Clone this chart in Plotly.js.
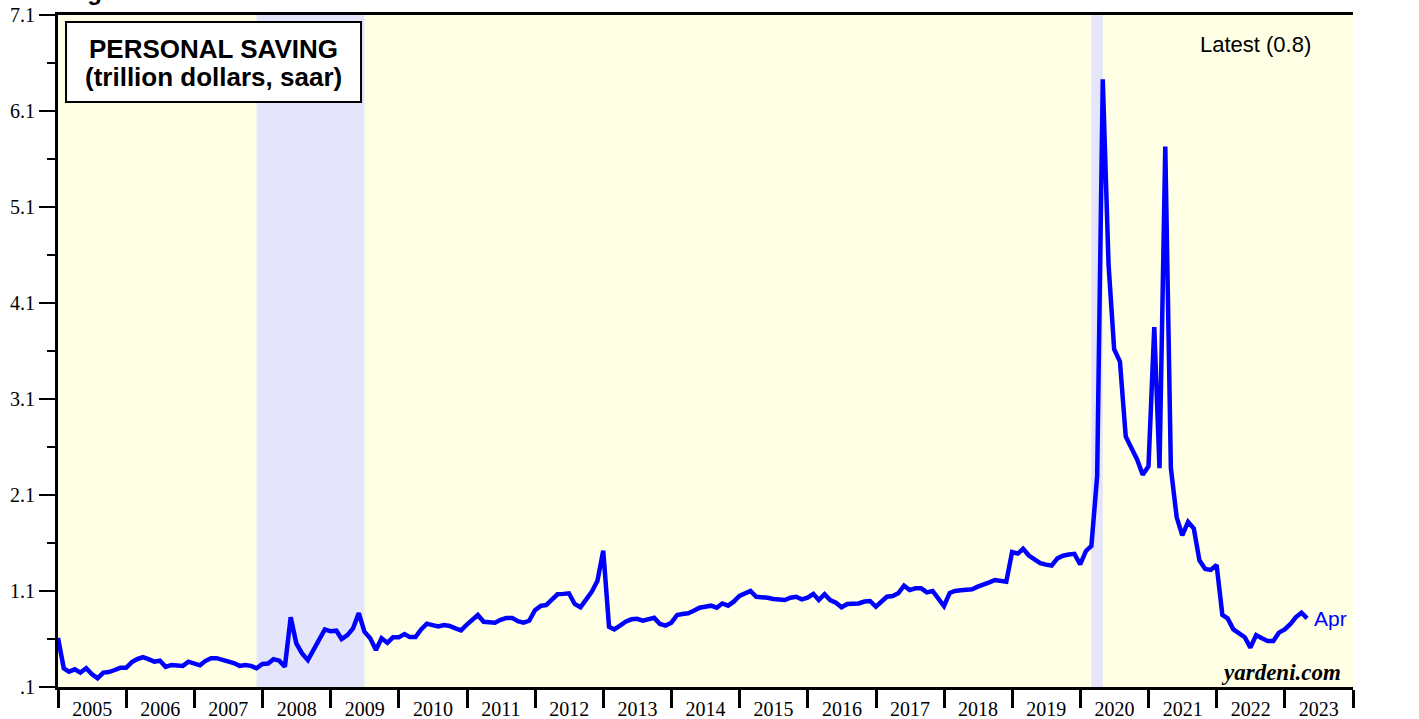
<!DOCTYPE html>
<html>
<head>
<meta charset="utf-8">
<script src="https://cdn.plot.ly/plotly-3.0.1.min.js"></script>
<style>
  html, body { margin: 0; padding: 0; background: #fff; }
  #chart { width: 1419px; height: 719px; }
</style>
</head>
<body>
<div id="chart"></div>
<script>
// ==========================================
// Personal saving, trillion dollars, saar (monthly, month-end)
// ==========================================
const FIRST_MONTH = { year: 2004, month: 12 };

const y2004 = [0.61];
const y2005 = [0.295, 0.26, 0.284, 0.25, 0.295, 0.235, 0.19, 0.25, 0.256, 0.277, 0.30, 0.30];
const y2006 = [0.36, 0.39, 0.41, 0.39, 0.364, 0.374, 0.31, 0.33, 0.325, 0.32, 0.364, 0.35];
const y2007 = [0.326, 0.37, 0.40, 0.40, 0.385, 0.37, 0.35, 0.32, 0.33, 0.32, 0.295, 0.34];
const y2008 = [0.345, 0.39, 0.374, 0.31, 0.826, 0.555, 0.45, 0.38, 0.48, 0.59, 0.70, 0.68];
const y2009 = [0.686, 0.60, 0.64, 0.71, 0.87, 0.676, 0.607, 0.485, 0.607, 0.56, 0.617, 0.617];
const y2010 = [0.652, 0.62, 0.62, 0.70, 0.76, 0.745, 0.73, 0.745, 0.735, 0.71, 0.69, 0.75];
const y2011 = [0.805, 0.85, 0.78, 0.77, 0.77, 0.80, 0.82, 0.82, 0.785, 0.77, 0.79, 0.90];
const y2012 = [0.945, 0.954, 1.01, 1.066, 1.07, 1.076, 0.965, 0.93, 1.01, 1.093, 1.207, 1.52];
const y2013 = [0.728, 0.70, 0.74, 0.78, 0.805, 0.81, 0.79, 0.805, 0.82, 0.756, 0.74, 0.77];
const y2014 = [0.85, 0.86, 0.868, 0.895, 0.926, 0.936, 0.947, 0.926, 0.97, 0.947, 0.989, 1.048];
const y2015 = [1.08, 1.10, 1.04, 1.04, 1.03, 1.017, 1.01, 1.006, 1.03, 1.04, 1.013, 1.03];
const y2016 = [1.07, 1.006, 1.066, 1.006, 0.978, 0.93, 0.965, 0.97, 0.97, 0.99, 0.996, 0.936];
const y2017 = [0.996, 1.04, 1.048, 1.076, 1.155, 1.11, 1.128, 1.128, 1.086, 1.10, 1.024, 0.944];
const y2018 = [1.08, 1.10, 1.107, 1.11, 1.118, 1.145, 1.173, 1.19, 1.215, 1.207, 1.197, 1.506];
const y2019 = [1.49, 1.54, 1.47, 1.43, 1.39, 1.375, 1.365, 1.44, 1.468, 1.48, 1.487, 1.378];
const y2020 = [1.517, 1.57, 2.30, 6.43, 4.50, 3.62, 3.49, 2.71, 2.59, 2.47, 2.31, 2.40];
const y2021 = [3.85, 2.38, 5.73, 2.38, 1.87, 1.68, 1.82, 1.75, 1.42, 1.33, 1.32, 1.37];
const y2022 = [0.85, 0.815, 0.70, 0.66, 0.618, 0.51, 0.64, 0.607, 0.58, 0.58, 0.666, 0.70];
const y2023 = [0.756, 0.826, 0.874, 0.815];

const saving = [].concat(y2004, y2005, y2006, y2007, y2008, y2009, y2010, y2011, y2012,
  y2013, y2014, y2015, y2016, y2017, y2018, y2019, y2020, y2021, y2022, y2023);

// recessions (shaded)
const recessionStart = ['2007-11-30', '2020-02-29'];
const recessionEnd = ['2009-06-30', '2020-04-30'];

// y ticks
const yTickVals = [0.1, 1.1, 2.1, 3.1, 4.1, 5.1, 6.1, 7.1];
const yTickText = ['.1', '1.1', '2.1', '3.1', '4.1', '5.1', '6.1', '7.1'];
const yMinorVals = [0.6, 1.6, 2.6, 3.6, 4.6, 5.6, 6.6];

const latestLabel = 'Latest (0.8)';
const lastMonthLabel = 'Apr';

// month-end dates
function monthEnd(y, m) {
  const d = new Date(Date.UTC(y, m, 0));
  return d.toISOString().slice(0, 10);
}
const dates = saving.map((_, i) => {
  const k = FIRST_MONTH.month - 1 + i;
  return monthEnd(FIRST_MONTH.year + Math.floor(k / 12), (k % 12) + 1);
});

const xRange = ['2004-12-31', '2024-01-01'];
const serif = { family: 'Liberation Serif, Times New Roman, serif', size: 20, color: '#000' };
const sans = 'Liberation Sans, Arial, sans-serif';

const yAxisBase = {
  range: [0.1, 7.1],
  tickmode: 'array',
  tickvals: yTickVals,
  ticktext: yTickText,
  ticks: 'outside',
  ticklen: 16,
  tickwidth: 2,
  tickcolor: '#000',
  minor: { tickmode: 'array', tickvals: yMinorVals, ticks: 'outside', ticklen: 8, tickwidth: 2, tickcolor: '#000', showgrid: false },
  showline: true,
  linewidth: 3,
  linecolor: '#000',
  showgrid: false,
  zeroline: false,
  fixedrange: true,
  tickfont: serif
};

const trace = {
  x: dates,
  y: saving,
  type: 'scatter',
  mode: 'lines',
  line: { color: '#0000FF', width: 4.5 },
  hoverinfo: 'skip',
  showlegend: false
};

const shapes = recessionStart.map((s, i) => ({
  type: 'rect', xref: 'x', yref: 'paper', layer: 'below',
  x0: s, x1: recessionEnd[i], y0: 0, y1: 1,
  fillcolor: 'rgb(228,228,250)', line: { width: 0 }
}));

// title box
shapes.push({
  type: 'rect', xref: 'paper', yref: 'paper', layer: 'above',
  x0: 0.0062, x1: 0.234, y0: 0.8705, y1: 0.9896,
  fillcolor: '#fff', line: { color: '#000', width: 2 }
});

const annotations = [
  { text: '<b>Figure</b>', xref: 'paper', yref: 'paper', x: 0.0046, y: 1.035,
    xanchor: 'left', yanchor: 'middle', showarrow: false,
    font: { family: sans, size: 24, color: '#000' } },
  { text: '<b>PERSONAL SAVING</b>', xref: 'paper', yref: 'paper', x: 0.1197, y: 0.949,
    xanchor: 'center', yanchor: 'middle', showarrow: false,
    font: { family: sans, size: 26, color: '#000' } },
  { text: '<b>(trillion dollars, saar)</b>', xref: 'paper', yref: 'paper', x: 0.1197, y: 0.9077,
    xanchor: 'center', yanchor: 'middle', showarrow: false,
    font: { family: sans, size: 26, color: '#000' } },
  { text: latestLabel, xref: 'paper', yref: 'paper', x: 0.925, y: 0.9554,
    xanchor: 'center', yanchor: 'middle', showarrow: false,
    font: { family: sans, size: 22, color: '#000' } },
  { text: lastMonthLabel, xref: 'x', yref: 'y', x: dates[dates.length - 1], y: saving[saving.length - 1],
    xanchor: 'left', yanchor: 'middle', xshift: 5, showarrow: false,
    font: { family: sans, size: 21, color: '#0000FF' } },
  { text: '<b><i>yardeni.com</i></b>', xref: 'paper', yref: 'paper', x: 0.9923, y: 0.021,
    xanchor: 'right', yanchor: 'middle', showarrow: false,
    font: { family: 'Liberation Serif, Times New Roman, serif', size: 23, color: '#000' } }
];

const layout = {
  width: 1419,
  height: 719,
  margin: { l: 58, r: 66, t: 15, b: 32, pad: 0 },
  paper_bgcolor: '#fff',
  plot_bgcolor: 'rgb(255,255,230)',
  showlegend: false,
  // year labels at mid-year, year-boundary ticks drawn as minor ticks
  xaxis: {
    type: 'date',
    range: xRange,
    tick0: '2005-07-02',
    dtick: 'M12',
    tickformat: '%Y',
    ticks: '',
    ticklabelstandoff: 2,
    minor: {
      tick0: '2005-01-01', dtick: 'M12',
      ticks: 'outside', ticklen: 18, tickwidth: 3, tickcolor: '#000', showgrid: false
    },
    showline: true,
    linewidth: 3,
    linecolor: '#000',
    mirror: true,
    showgrid: false,
    zeroline: false,
    fixedrange: true,
    tickfont: serif
  },
  yaxis: { ...yAxisBase, side: 'left' },
  yaxis2: { ...yAxisBase, side: 'right', overlaying: 'y', anchor: 'x' },
  shapes: shapes,
  annotations: annotations
};

Plotly.newPlot('chart', [trace], layout, { staticPlot: true, displayModeBar: false });
</script>
</body>
</html>
